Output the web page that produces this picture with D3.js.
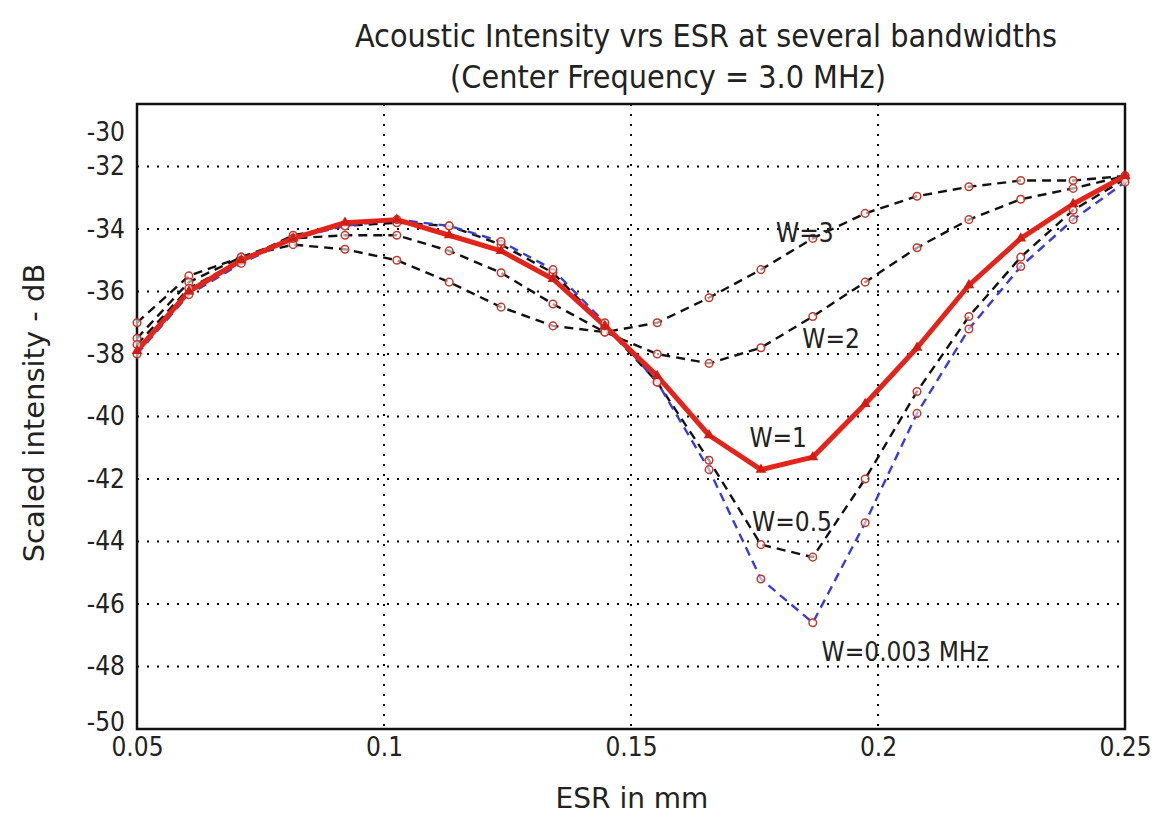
<!DOCTYPE html>
<html>
<head>
<meta charset="utf-8">
<script src="https://cdn.jsdelivr.net/npm/d3@7"></script>
<style>
  body { margin: 0; background: #fff; }
  svg { font-family: "DejaVu Sans Condensed", "Liberation Sans Narrow", sans-serif; }
</style>
</head>
<body>
<div id="chart"></div>
<script>
// ESR sample positions (mm)
const esr = [0.05, 0.0605, 0.0711, 0.0816, 0.0921, 0.1026, 0.1132, 0.1237, 0.1342, 0.1447,
             0.1553, 0.1658, 0.1763, 0.1868, 0.1974, 0.2079, 0.2184, 0.2289, 0.2395, 0.25];

// scaled intensity (dB) per bandwidth
const w3 = [-37.0, -35.5, -34.9, -34.5, -34.65, -35.0, -35.7, -36.5, -37.1, -37.3,
            -37.0, -36.2, -35.3, -34.3, -33.5, -32.95, -32.65, -32.45, -32.45, -32.3];
const w2 = [-37.5, -35.7, -34.9, -34.3, -34.2, -34.2, -34.7, -35.4, -36.4, -37.3,
            -38.0, -38.3, -37.8, -36.8, -35.7, -34.6, -33.7, -33.05, -32.7, -32.3];
const w1 = [-37.9, -36.0, -35.0, -34.3, -33.8, -33.7, -34.2, -34.7, -35.6, -37.1,
            -38.7, -40.6, -41.7, -41.3, -39.6, -37.8, -35.8, -34.3, -33.2, -32.3];
const w05 = [-37.7, -35.9, -35.0, -34.2, -33.9, -33.8, -33.9, -34.5, -35.4, -37.1,
             -38.9, -41.4, -44.1, -44.5, -42.0, -39.2, -36.8, -34.9, -33.4, -32.4];
const w0003 = [-38.0, -36.1, -35.1, -34.3, -33.9, -33.7, -33.9, -34.4, -35.3, -37.0,
               -38.9, -41.7, -45.2, -46.6, -43.4, -39.9, -37.2, -35.2, -33.7, -32.5];

const xTicks = [0.05, 0.1, 0.15, 0.2, 0.25];
const xTickLabels = ["0.05", "0.1", "0.15", "0.2", "0.25"];
const yTicks = [-30, -32, -34, -36, -38, -40, -42, -44, -46, -48, -50];

// curve labels: text, esr position, dB position
const curveLabels = [
  { text: "W=3", x: 0.1852, y: -34.13 },
  { text: "W=2", x: 0.1905, y: -37.52 },
  { text: "W=1", x: 0.1798, y: -40.69 },
  { text: "W=0.5", x: 0.1826, y: -43.38 },
  { text: "W=0.003 MHz", x: 0.2055, y: -47.54 }
];

const width = 1162, height = 816;
const margin = { top: 104, right: 37, bottom: 87, left: 137 };
const innerW = width - margin.left - margin.right;
const innerH = height - margin.top - margin.bottom;

const svg = d3.select("#chart").append("svg")
  .attr("width", width)
  .attr("height", height);

// titles
svg.append("text")
  .attr("x", 706).attr("y", 47)
  .attr("text-anchor", "middle")
  .attr("font-size", 32)
  .attr("fill", "#222")
  .text("Acoustic Intensity vrs ESR at several bandwidths");
svg.append("text")
  .attr("x", 668).attr("y", 88)
  .attr("text-anchor", "middle")
  .attr("font-size", 32)
  .attr("fill", "#222")
  .text("(Center Frequency = 3.0 MHz)");

const g = svg.append("g")
  .attr("transform", `translate(${margin.left},${margin.top})`);

const x = d3.scaleLinear().domain([0.05, 0.25]).range([0, innerW]);
const y = d3.scaleLinear().domain([-50, -30]).range([innerH, 0]);

// dotted grid
g.append("g")
  .selectAll("line")
  .data(yTicks.filter(d => d > -50 && d < -30))
  .join("line")
  .attr("x1", 0).attr("x2", innerW)
  .attr("y1", d => y(d)).attr("y2", d => y(d))
  .attr("stroke", "#000")
  .attr("stroke-width", 2)
  .attr("stroke-dasharray", "2,8");
g.append("g")
  .selectAll("line")
  .data(xTicks.filter(d => d > 0.05 && d < 0.25))
  .join("line")
  .attr("x1", d => x(d)).attr("x2", d => x(d))
  .attr("y1", 0).attr("y2", innerH)
  .attr("stroke", "#000")
  .attr("stroke-width", 2)
  .attr("stroke-dasharray", "2,8");

// axes
const xAxis = g.append("g")
  .attr("transform", `translate(0,${innerH})`)
  .call(d3.axisBottom(x).tickValues(xTicks).tickSize(0).tickPadding(9)
    .tickFormat((d, i) => xTickLabels[i]));
xAxis.select(".domain").remove();
xAxis.selectAll("text").attr("font-size", 26).attr("fill", "#222")
  .attr("font-family", "DejaVu Sans Condensed, sans-serif");

const yAxis = g.append("g")
  .call(d3.axisLeft(y).tickValues(yTicks).tickSize(0).tickPadding(12)
    .tickFormat(d => d3.format("d")(d).replace("−", "-")));
yAxis.select(".domain").remove();
yAxis.selectAll("text").attr("font-size", 26).attr("fill", "#222")
  .attr("font-family", "DejaVu Sans Condensed, sans-serif")
  .attr("dy", d => d === -30 ? "1.4em" : d === -50 ? "0.05em" : "0.32em");

// frame
g.append("rect")
  .attr("width", innerW).attr("height", innerH)
  .attr("fill", "none")
  .attr("stroke", "#111")
  .attr("stroke-width", 2.5);

// axis titles
svg.append("text")
  .attr("x", margin.left + innerW / 2 + 1).attr("y", 808)
  .attr("text-anchor", "middle")
  .attr("font-family", "DejaVu Sans, sans-serif")
  .attr("font-size", 28)
  .attr("fill", "#222")
  .text("ESR in mm");
svg.append("text")
  .attr("transform", `translate(44,${413}) rotate(-90)`)
  .attr("text-anchor", "middle")
  .attr("font-family", "DejaVu Sans, sans-serif")
  .attr("font-size", 29)
  .attr("fill", "#222")
  .text("Scaled intensity - dB");

const line = d3.line()
  .x((d, i) => x(esr[i]))
  .y(d => y(d));

const dashed = [
  { values: w3, color: "#111" },
  { values: w2, color: "#111" },
  { values: w05, color: "#111" },
  { values: w0003, color: "#3b3bd6" }
];

dashed.forEach(s => {
  g.append("path")
    .datum(s.values)
    .attr("fill", "none")
    .attr("stroke", s.color)
    .attr("stroke-width", 2.4)
    .attr("stroke-dasharray", "9,6")
    .attr("d", line);
});

// W=1 solid red line
g.append("path")
  .datum(w1)
  .attr("fill", "none")
  .attr("stroke", "#e3241b")
  .attr("stroke-width", 5)
  .attr("stroke-linejoin", "round")
  .attr("d", line);

// circle markers on dashed series
dashed.forEach(s => {
  g.append("g")
    .selectAll("circle")
    .data(s.values)
    .join("circle")
    .attr("cx", (d, i) => x(esr[i]))
    .attr("cy", d => y(d))
    .attr("r", 3.8)
    .attr("fill", "#fff")
    .attr("fill-opacity", 0.6)
    .attr("stroke", "#c0392b")
    .attr("stroke-width", 1.5);
});

// triangle markers on W=1
g.append("g")
  .selectAll("path")
  .data(w1)
  .join("path")
  .attr("transform", (d, i) => `translate(${x(esr[i])},${y(d)})`)
  .attr("d", d3.symbol(d3.symbolTriangle, 50))
  .attr("fill", "#d01c12");

// curve labels
g.append("g")
  .selectAll("text")
  .data(curveLabels)
  .join("text")
  .attr("x", d => x(d.x))
  .attr("y", d => y(d.y))
  .attr("text-anchor", "middle")
  .attr("dy", "0.35em")
  .attr("font-size", 26)
  .attr("fill", "#222")
  .text(d => d.text);
</script>
</body>
</html>
